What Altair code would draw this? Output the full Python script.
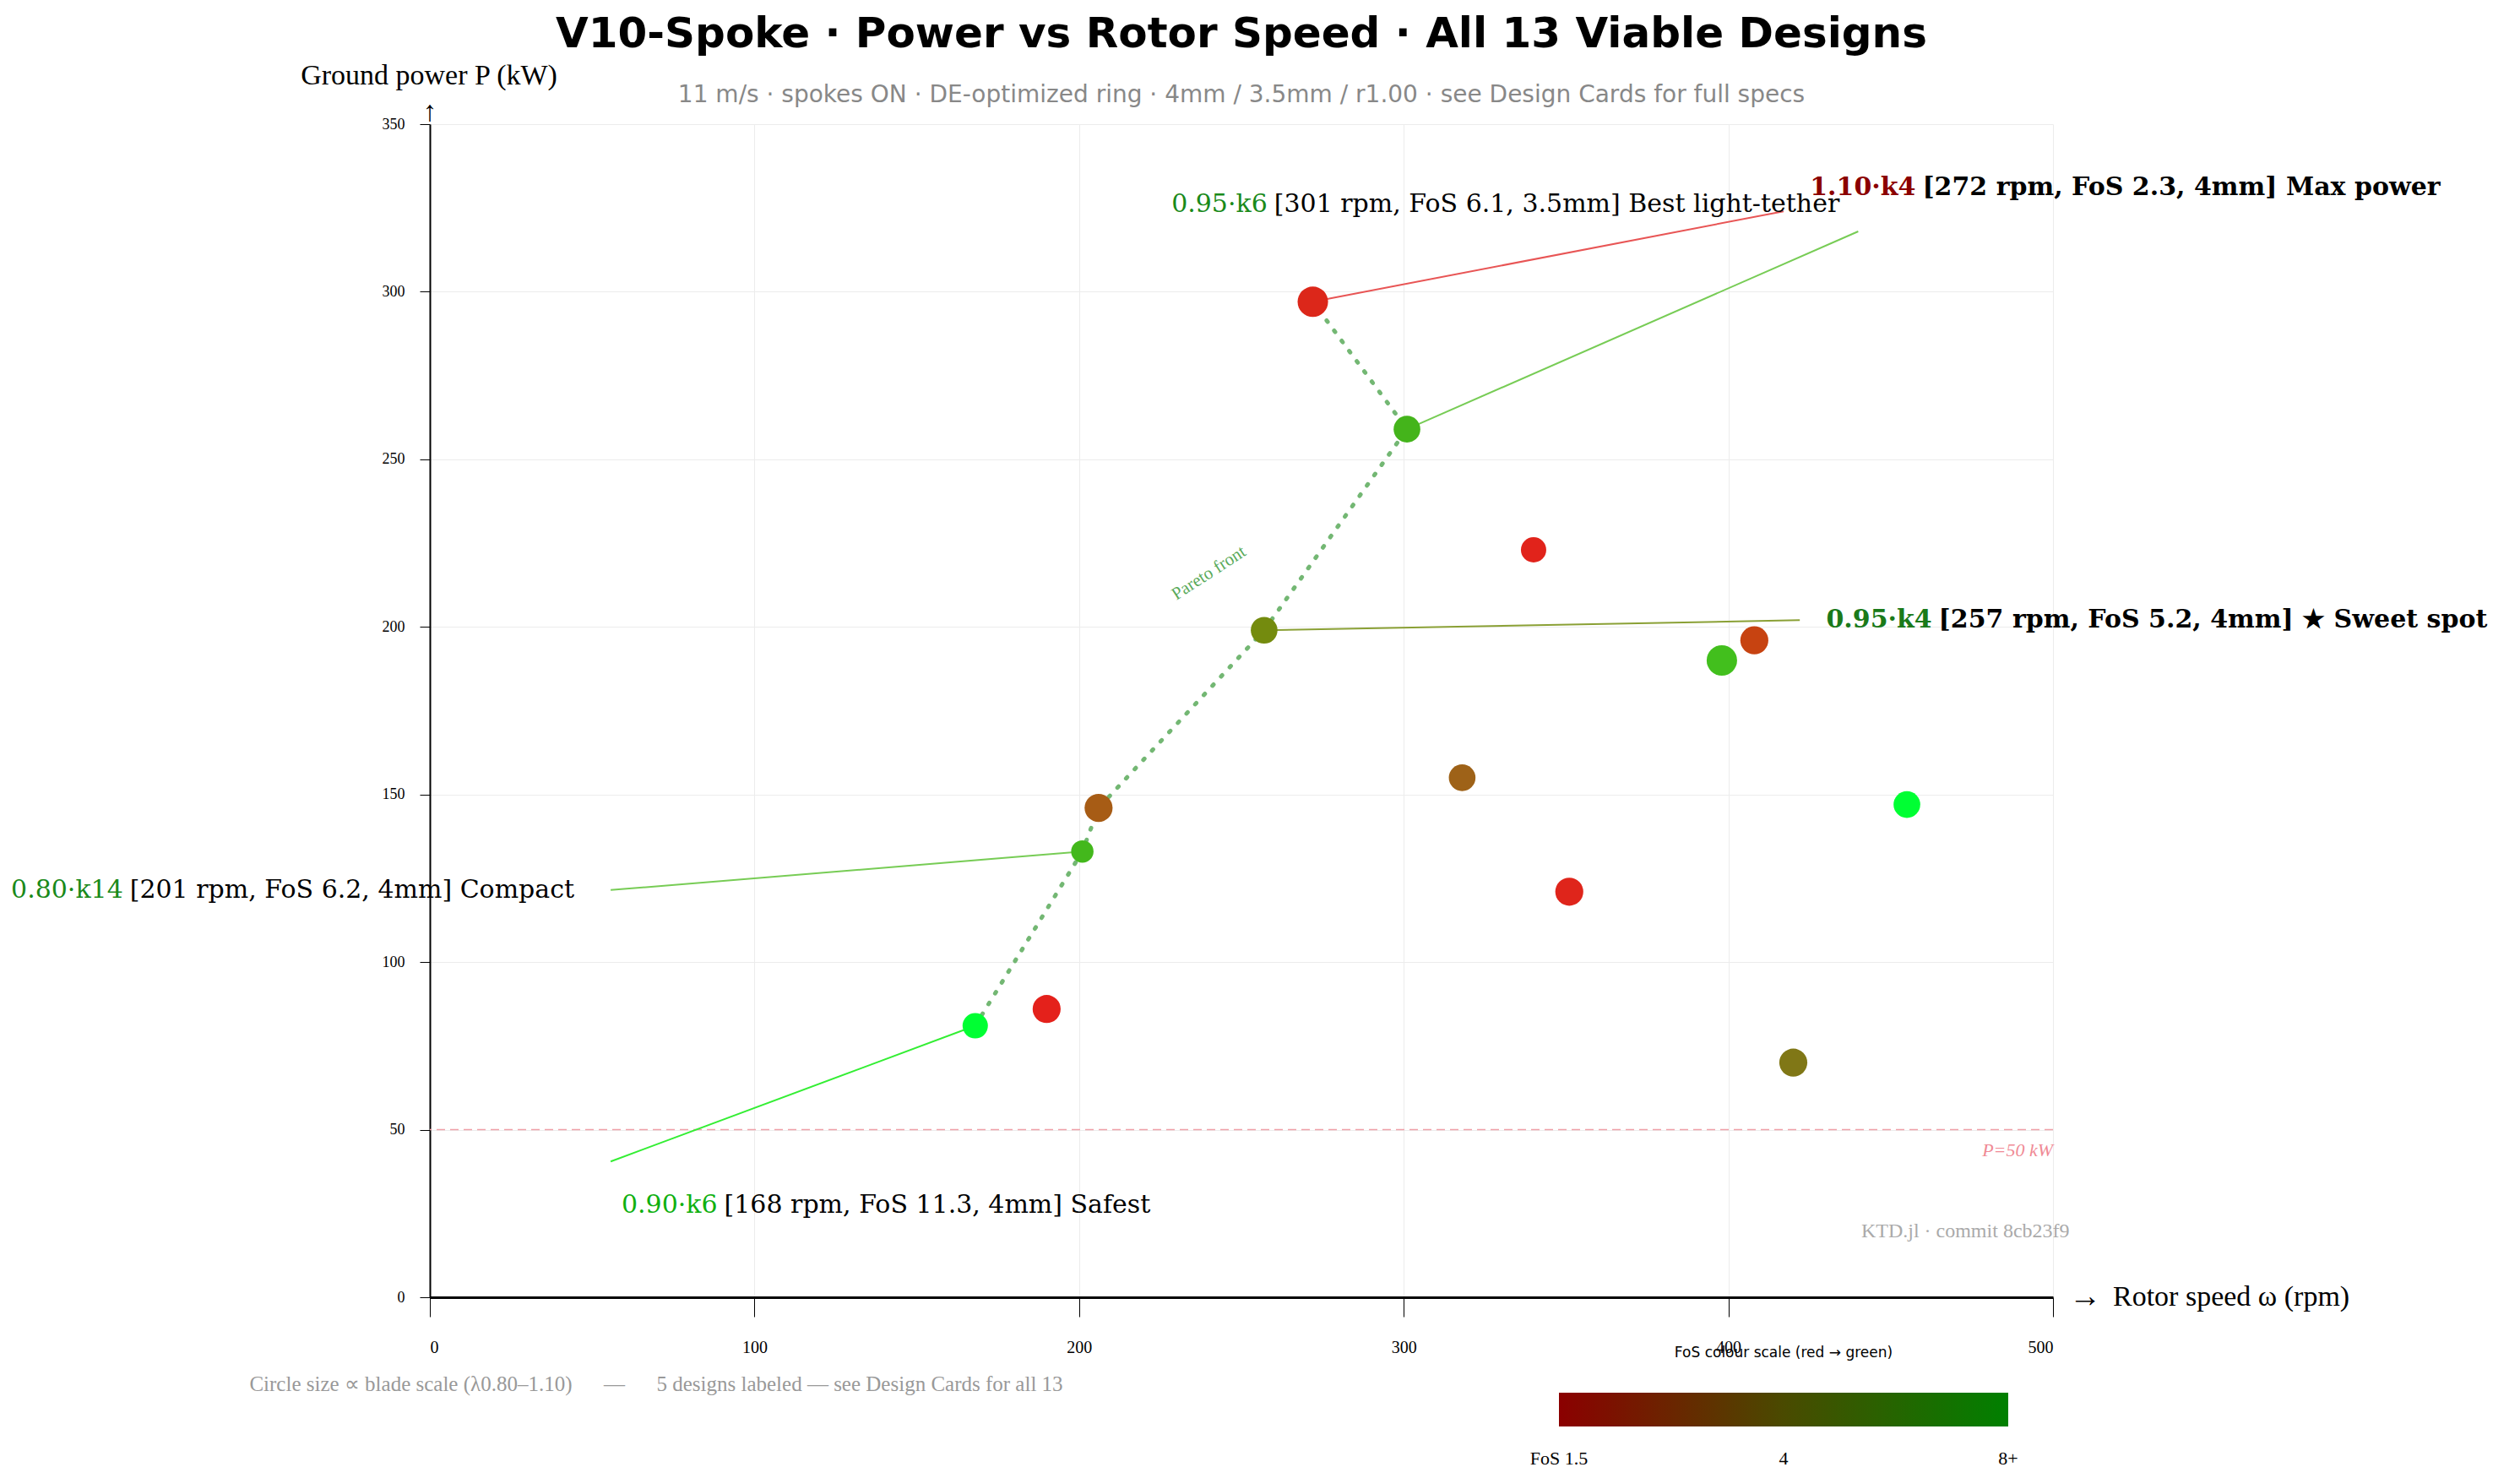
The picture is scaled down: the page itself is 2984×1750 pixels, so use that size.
import pandas as pd
import altair as alt

# all designs: rotor speed (rpm), ground power (kW), FoS, blade scale
rpm = [168, 190, 201, 206, 257, 272, 301, 318, 340, 351, 398, 408, 420, 455]
power = [81, 86, 133, 146, 199, 297, 259, 155, 223, 121, 190, 196, 70, 147]
fos = [11.3, 1.8, 6.2, 3.2, 5.2, 2.3, 6.1, 3.4, 2.0, 2.1, 6.4, 2.8, 4.6, 9.0]
blade = [0.90, 1.00, 0.80, 1.00, 0.95, 1.10, 0.95, 0.95, 0.90, 1.00, 1.10, 1.00, 1.00, 0.95]

# pareto front (ordered)
pareto_rpm = [168, 201, 206, 257, 301, 272]
pareto_p = [81, 133, 146, 199, 259, 297]

# labelled designs
lab_key = ["1.10·k4", "0.95·k6", "0.95·k4", "0.80·k14", "0.90·k6"]
lab_rest = ["[272 rpm, FoS 2.3, 4mm] Max power",
            "[301 rpm, FoS 6.1, 3.5mm] Best light-tether",
            "[257 rpm, FoS 5.2, 4mm] ★ Sweet spot",
            "[201 rpm, FoS 6.2, 4mm] Compact",
            "[168 rpm, FoS 11.3, 4mm] Safest"]
lab_bold = [True, False, True, False, False]
lab_keycolor = ["#8b0000", "#1a8a1a", "#1a7a1a", "#1a8a1a", "#10b010"]
lab_linecolor = ["#e85555", "#77cc55", "#8aa035", "#77cc55", "#33ee33"]
lab_from_x = [272, 301, 257, 201, 168]
lab_from_y = [297, 259, 199, 133, 81]
lab_to_x = [417, 440, 422, 55.7, 55.7]
lab_to_y = [324, 318, 202, 121.5, 40.5]
lab_split_x = [457.7, 258, 462.7, -94.5, 88.6]
lab_text_y = [331, 326, 202, 121.5, 27.5]

W, H = 1922, 1389
xs = alt.Scale(domain=[0, 500], nice=False)
ys = alt.Scale(domain=[0, 350], nice=False)
SERIF = "DejaVu Serif"
LSERIF = "Liberation Serif"
SP = "\u00a0" * 6

df = pd.DataFrame({"rpm": rpm, "power": power, "fos": fos, "blade": blade})
pf = pd.DataFrame({"rpm": pareto_rpm, "power": pareto_p, "o": range(len(pareto_rpm))})
lab = pd.DataFrame({"key": lab_key, "rest": lab_rest, "bold": lab_bold,
                    "kc": lab_keycolor, "lc": lab_linecolor,
                    "x1": lab_from_x, "y1": lab_from_y, "x2": lab_to_x, "y2": lab_to_y,
                    "sx": lab_split_x, "ty": lab_text_y})

base_axes = alt.Chart(df).mark_point(opacity=0).encode(
    x=alt.X("rpm:Q", scale=xs).axis(
        title=None, values=[0, 100, 200, 300, 400, 500], tickSize=23, labelPadding=26,
        labelFont=LSERIF, labelFontSize=20, labelColor="black", domainColor="black",
        domainWidth=3, tickColor="black", gridColor="#ececec"),
    y=alt.Y("power:Q", scale=ys).axis(
        title=None, values=[0, 50, 100, 150, 200, 250, 300, 350], tickSize=12,
        labelPadding=18, labelFont=LSERIF, labelFontSize=18, labelColor="black",
        domainColor="black", domainWidth=2, tickColor="black", gridColor="#ececec"),
)

ref = alt.Chart(pd.DataFrame({"p": [50]})).mark_rule(
    color="#f0a0a8", strokeDash=[10, 6], strokeWidth=1.5).encode(y=alt.Y("p:Q", scale=ys))
ref_lbl = alt.Chart(pd.DataFrame({"x": [500], "p": [50], "t": ["P=50 kW"]})).mark_text(
    align="right", baseline="top", dy=14, font=LSERIF, fontStyle="italic", fontSize=22,
    color="#f08a95").encode(x=alt.X("x:Q", scale=xs), y=alt.Y("p:Q", scale=ys), text="t:N")

front = alt.Chart(pf).mark_line(color="#5aaa5a", strokeDash=[2, 13], strokeWidth=5,
                                strokeCap="round", opacity=0.85).encode(
    x=alt.X("rpm:Q", scale=xs), y=alt.Y("power:Q", scale=ys), order="o:Q")
front_lbl = alt.Chart(pd.DataFrame({"x": [240], "y": [216], "t": ["Pareto front"]})).mark_text(
    angle=327, font=LSERIF, fontSize=21, color="#5aaa5a").encode(
    x=alt.X("x:Q", scale=xs), y=alt.Y("y:Q", scale=ys), text="t:N")

leaders = alt.Chart(lab).mark_rule(strokeWidth=2).encode(
    x=alt.X("x1:Q", scale=xs), y=alt.Y("y1:Q", scale=ys), x2="x2:Q", y2="y2:Q",
    color=alt.Color("lc:N", scale=None))

pts = alt.Chart(df).mark_circle(opacity=1).encode(
    x=alt.X("rpm:Q", scale=xs), y=alt.Y("power:Q", scale=ys),
    color=alt.Color("fos:Q", legend=None, scale=alt.Scale(
        domain=[1.5, 2.6, 3.3, 4.8, 6.0, 8.0],
        range=["#e81c1c", "#d82a1a", "#a0601a", "#7a7a1a", "#44b01a", "#00ff33"],
        clamp=True)),
    size=alt.Size("blade:Q", legend=None, scale=alt.Scale(domain=[0.8, 1.1], range=[700, 1300])),
)

label_layers = []
for is_bold in [True, False]:
    w = "bold" if is_bold else "normal"
    sub = alt.Chart(lab).transform_filter(alt.datum.bold == is_bold)
    label_layers.append(sub.mark_text(align="right", font=SERIF, fontSize=30, fontWeight=w).encode(
        x=alt.X("sx:Q", scale=xs), y=alt.Y("ty:Q", scale=ys), text="key:N",
        color=alt.Color("kc:N", scale=None)))
    label_layers.append(sub.mark_text(align="left", dx=8, font=SERIF, fontSize=30, fontWeight=w,
                                      color="black").encode(
        x=alt.X("sx:Q", scale=xs), y=alt.Y("ty:Q", scale=ys), text="rest:N"))

commit = alt.Chart(pd.DataFrame({"x": [473], "y": [19.7], "t": ["KTD.jl · commit 8cb23f9"]})).mark_text(
    font=LSERIF, fontSize=24, color="#aaaaaa").encode(
    x=alt.X("x:Q", scale=xs), y=alt.Y("y:Q", scale=ys), text="t:N")

def ptext(t, px, py, size, color="black", font=LSERIF, align="center", weight="normal"):
    return alt.Chart(pd.DataFrame({"t": [t]})).mark_text(
        font=font, fontSize=size, color=color, align=align, fontWeight=weight).encode(
        x=alt.value(px), y=alt.value(py), text="t:N")

grad = alt.Chart(pd.DataFrame({"a": [0]})).mark_rect(
    color=alt.Gradient(gradient="linear", x1=0, x2=1, y1=0, y2=0,
                       stops=[alt.GradientStop(color="#8b0000", offset=0),
                              alt.GradientStop(color="#4a4a00", offset=0.5),
                              alt.GradientStop(color="#008000", offset=1)])).encode(
    x=alt.value(1337), x2=alt.value(1869), y=alt.value(1502), y2=alt.value(1542))

texts = [
    ptext("V10-Spoke · Power vs Rotor Speed · All 13 Viable Designs", W / 2, -106, 50,
          font="DejaVu Sans", weight="bold"),
    ptext("11 m/s · spokes ON · DE-optimized ring · 4mm / 3.5mm / r1.00 · see Design Cards for full specs",
          W / 2, -34, 28, color="#888888", font="DejaVu Sans"),
    ptext("Ground power P (kW)", -1, -57, 34),
    ptext("↑", 0, -14, 34),
    ptext("→", 1960, H, 38),
    ptext("Rotor speed ω (rpm)", 1993, H, 34, align="left"),
    ptext(f"Circle size ∝ blade scale (λ0.80–1.10){SP}—{SP}5 designs labeled — see Design Cards for all 13",
          268, 1492, 25, color="#999999"),
    ptext("FoS colour scale (red → green)", 1603, 1455, 17, font="DejaVu Sans"),
    ptext("FoS 1.5", 1337, 1580, 22),
    ptext("4", 1603, 1580, 22),
    ptext("8+", 1869, 1580, 22),
]

chart = alt.layer(base_axes, ref, ref_lbl, front, front_lbl, leaders, pts, *label_layers,
                  commit, grad, *texts).properties(
    width=W, height=H, autosize=alt.AutoSizeParams(type="none"),
    padding={"left": 501, "top": 139, "right": 545, "bottom": 206},
).configure_view(stroke=None, clip=False).configure_axis(grid=True)

chart.save("out.html", embed_options={"renderer": "svg", "actions": False})
